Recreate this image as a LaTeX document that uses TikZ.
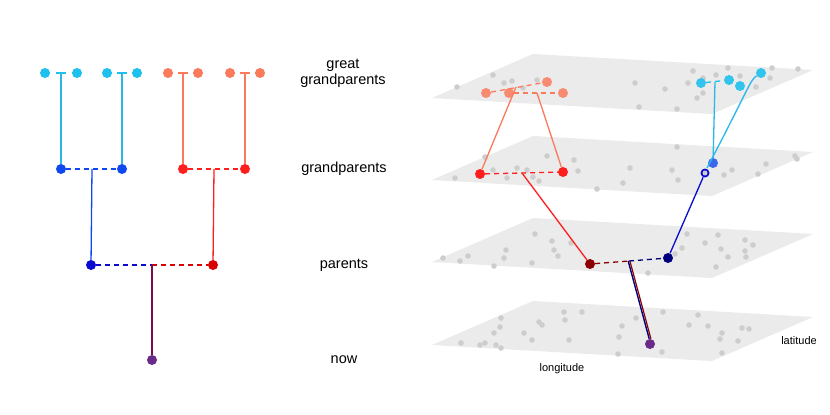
\documentclass[tikz,border=0pt]{standalone}
\usepackage{fontspec}
\setmainfont{Liberation Sans}
\definecolor{cyn}{HTML}{1EC0EE}
\definecolor{cynl}{HTML}{29B8E8}
\definecolor{sal}{HTML}{FA7A5C}
\definecolor{bgp}{HTML}{1048F0}
\definecolor{rgp}{HTML}{FF1E1E}
\definecolor{bp}{HTML}{0A0AD0}
\definecolor{rp}{HTML}{D80000}
\definecolor{dr}{HTML}{8B0000}
\definecolor{nv}{HTML}{00007F}
\definecolor{pur}{HTML}{6A2A8A}
\definecolor{vln}{HTML}{7A0E4E}
\definecolor{pl}{HTML}{EBEBEB}
\definecolor{gd}{HTML}{CDCDCD}
\tikzset{dot/.style={circle,inner sep=0pt,minimum size=10pt},
  lbl/.style={font=\fontsize{14.5}{16}\selectfont,align=center},
  ax/.style={font=\fontsize{11}{12}\selectfont},
  ln/.style={line width=1.3pt},
  dsh/.style={line width=1.3pt,dash pattern=on 5pt off 4pt}}
\begin{document}
\begin{tikzpicture}[x=1pt,y=-1pt]
\useasboundingbox[fill=white] (0,0) rectangle (830,415);
% ---------- left tree ----------
\foreach \a/\b/\m/\c in {45/77/61/cyn,107/137/122/cyn,168/198/183/sal,230/260/245/sal}{
  \draw[ln,\c] (\a,73) -- (\b,73);
}
\node[dot,fill=cyn] (g1) at (45,73) {};
\node[dot,fill=cyn] (g2) at (77,73) {};
\node[dot,fill=cyn] (g3) at (107,73) {};
\node[dot,fill=cyn] (g4) at (137,73) {};
\node[dot,fill=sal] (g5) at (168,73) {};
\node[dot,fill=sal] (g6) at (198,73) {};
\node[dot,fill=sal] (g7) at (230,73) {};
\node[dot,fill=sal] (g8) at (260,73) {};
\fill[white] (50,70) rectangle (56,76); \fill[white] (66,70) rectangle (72,76);
\fill[white] (112,70) rectangle (117,76); \fill[white] (127,70) rectangle (132,76);
\fill[white] (173,70) rectangle (178,76); \fill[white] (188,70) rectangle (193,76);
\fill[white] (235,70) rectangle (240,76); \fill[white] (250,70) rectangle (255,76);
\node[dot,fill=bgp] (p1) at (61,169) {};
\node[dot,fill=bgp] (p2) at (122,169) {};
\node[dot,fill=rgp] (p3) at (183,169) {};
\node[dot,fill=rgp] (p4) at (245,169) {};
\draw[ln,cynl] (61,73) -- (p1); \draw[ln,cynl] (122,73) -- (p2);
\draw[ln,sal] (183,73) -- (p3); \draw[ln,sal] (245,73) -- (p4);
\draw[dsh,bgp] (p1) -- (p2); \draw[dsh,rgp] (p3) -- (p4);
\node[dot,fill=bp] (q1) at (91,265) {};
\node[dot,fill=rp] (q2) at (213,265) {};
\draw[ln,bgp] (92,169) -- (q1); \draw[ln,rgp] (214,169) -- (q2);
\coordinate (qm) at (152,265);
\draw[dsh,bp] (q1) -- (qm); \draw[dsh,rp] (qm) -- (q2);
\node[dot,fill=pur] (n0) at (152,360) {};
\draw[line width=2.6pt,vln] (qm) -- (n0);
% labels
\node[lbl] (t1) at (343,73) {great\\grandparents};
\node[lbl] (t2) at (344,169) {grandparents};
\node[lbl] (t3) at (344,265) {parents};
\node[lbl] (t4) at (344,360) {now};
% ---------- planes ----------
\foreach \dy in {0,82,164,247}{
  \fill[pl] (432,98+\dy) -- (533,54+\dy) -- (813,70+\dy) -- (712,114+\dy) -- cycle;
}
\foreach \p in {(457,87),(493,75),(504,83),(512,81),(523,88),(537,80),(635,83),(665,89),(639,107),(677,109),(693,71),(688,83),(703,78),(716,75),(728,68),(740,76),(756,87),(770,78),(772,68),(798,69),(703,93),(697,98),
(455,178),(485,157),(493,170),(507,178),(517,168),(527,170),(533,177),(539,181),(547,156),(574,160),(578,171),(597,189),(623,183),(630,168),(677,147),(672,170),(678,180),(724,175),(732,170),(758,174),(766,164),(795,156),(797,159),
(443,258),(460,261),(468,256),(494,266),(504,258),(506,250),(532,263),(535,234),(552,241),(554,250),(558,256),(571,243),(648,273),(675,254),(682,248),(687,234),(705,243),(718,235),(721,249),(728,257),(745,240),(753,245),(745,251),(746,257),(716,267),
(461,343),(480,345),(485,343),(496,345),(501,348),(494,333),(500,327),(501,318),(524,333),(532,340),(539,322),(542,325),(564,312),(565,320),(582,312),(569,340),(619,337),(622,326),(618,354),(636,318),(663,312),(662,352),(689,325),(698,315),(708,326),(722,333),(720,339),(722,353),(738,341),(742,328),(749,329)}
  \fill[gd] \p circle (2.8);
% top plane
\node[dot,fill=sal,opacity=0.85] (s1) at (486,93) {};
\node[dot,fill=sal,opacity=0.85] (s2) at (509,93) {};
\node[dot,fill=sal,opacity=0.85] (s3) at (547,82) {};
\node[dot,fill=sal,opacity=0.85] (s4) at (563,93) {};
\coordinate (sm1) at (516,87); \coordinate (sm2) at (537,93);
\draw[dsh,sal] (s1) -- (s3); \draw[dsh,sal] (s2) -- (s4);
\node[dot,fill=cyn,opacity=0.9] (c1) at (701,83) {};
\node[dot,fill=cyn,opacity=0.9] (c2) at (729,80) {};
\node[dot,fill=cyn,opacity=0.9] (c3) at (740,86) {};
\node[dot,fill=cyn,opacity=0.9] (c4) at (761,73) {};
\coordinate (cm1) at (715,82);
\draw[dsh,cyn] (c1) -- (c2);
% second plane
\node[dot,fill=rgp] (r1) at (480,174) {};
\node[dot,fill=rgp] (r2) at (563,172) {};
\coordinate (rm) at (522,173);
\draw[dsh,rgp] (r1) -- (r2);
\draw[ln,sal] (sm1) -- (r1); \draw[ln,sal] (sm2) -- (r2);
\node[dot,fill=bgp,opacity=0.8] (b1) at (713,163) {};
\node[dot,fill=bp,minimum size=9pt] (b2) at (705,173) {};
\fill[gd] (b2) circle (2.5);
\draw[ln,cynl] (cm1) -- (b1);
\draw[ln,cynl] (c4) .. controls (750,80) and (748,90) .. (707,168);
% third plane
\node[dot,fill=dr] (d1) at (590,264) {};
\node[dot,fill=nv] (d2) at (668,258) {};
\coordinate (dm) at (629,261);
\draw[dsh,dr] (d1) -- (dm); \draw[dsh,nv] (dm) -- (d2);
\draw[ln,rgp] (rm) -- (d1);
\draw[ln,bp] (b2) -- (d2);
% fourth plane
\node[dot,fill=pur] (now) at (650,344) {};
\draw[line width=1.4pt,nv] ([xshift=-0.8]dm) -- ([xshift=-0.8]now.north);
\draw[line width=1.2pt,dr] ([xshift=0.9]dm) -- ([xshift=0.9]now.north);
\node[ax] (lon) at (562,369) {longitude};
\node[ax] (lat) at (799,341) {latitude};
\end{tikzpicture}
\end{document}
